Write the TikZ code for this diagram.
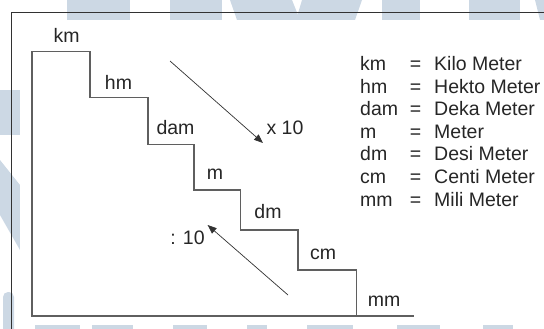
\documentclass[tikz,border=0pt]{standalone}
\usepackage{fontspec}
\setmainfont{Liberation Sans}
\usetikzlibrary{arrows.meta}
\definecolor{wmblue}{RGB}{204,216,228}
\definecolor{stairgray}{RGB}{95,95,95}
\definecolor{framegray}{RGB}{50,50,50}
\begin{document}
\begin{tikzpicture}[x=1pt,y=-1pt,
  lbl/.style={inner sep=0pt,font=\fontsize{19.5}{22}\selectfont,text=black!85},
  legend/.style={lbl,anchor=base west},
  stairline/.style={draw=stairgray,line width=1.1pt},
  frameline/.style={draw=framegray,line width=1pt},
  convarrow/.style={draw=framegray,line width=0.7pt,-{Triangle[length=9pt,width=7pt]}},
  wm/.style={fill=wmblue,draw=none}]
\useasboundingbox (0,0) rectangle (544,329);
% background lettering strips
\fill[wm] (67,0) rectangle (130,20);
\fill[wm] (170,0) rectangle (222,20);
\fill[wm] (230,0) -- (292,0) -- (300,20) -- (237,20) -- cycle;
\fill[wm] (302,0) -- (362,0) -- (355,20) -- (296,20) -- cycle;
\fill[wm] (382,0) rectangle (420,20);
\fill[wm] (469,0) rectangle (520,20);
\fill[wm] (535,0) -- (560,0) -- (565,20) -- (540,20) -- cycle;
\fill[wm] (0,90) rectangle (20,135);
\fill[wm] (0,160) -- (20,185) -- (20,250) -- (0,215) -- cycle;
\fill[wm, rounded corners=5pt] (3,292) rectangle (14,340);
\fill[wm] (35,325) rectangle (80,329);
\fill[wm] (92,325) rectangle (133,329);
\fill[wm] (173,325) rectangle (207,329);
\fill[wm] (247,325) rectangle (267,329);
\fill[wm] (307,325) rectangle (353,329);
\fill[wm] (397,325) rectangle (440,329);
\fill[wm] (483,325) rectangle (513,329);
% white sheet
\fill[white] (20,20) rectangle (544,325);
% frame
\coordinate (fTR) at (544,12.3);
\coordinate (fTL) at (11.5,12.3);
\coordinate (fBL) at (11.5,329);
\draw[frameline] (fTR) -- (fTL) -- (fBL);
% staircase
\coordinate (s0) at (32,316);
\coordinate (s1) at (32,51.7);
\coordinate (s2) at (90,51.7);
\coordinate (s3) at (90,97.7);
\coordinate (s4) at (148,97.7);
\coordinate (s5) at (148,144.3);
\coordinate (s6) at (194,144.3);
\coordinate (s7) at (194,190);
\coordinate (s8) at (240.5,190);
\coordinate (s9) at (240.5,230);
\coordinate (s10) at (298,230);
\coordinate (s11) at (298,270);
\coordinate (s12) at (356.5,270);
\coordinate (s13) at (356.5,316);
\coordinate (s14) at (413.6,316);
\draw[stairline] (s14) -- (s0) -- (s1) -- (s2) -- (s3) -- (s4) -- (s5) -- (s6)
  -- (s7) -- (s8) -- (s9) -- (s10) -- (s11) -- (s12) -- (s13);
% step labels
\node[lbl] (lkm)  at (66.5,35)  {km};
\node[lbl] (lhm)  at (118.5,82) {hm};
\node[lbl] (ldam) at (175.5,128) {dam};
\node[lbl] (lm)   at (215,174)  {m};
\node[lbl] (ldm)  at (268,212)  {dm};
\node[lbl] (lcm)  at (323,254)  {cm};
\node[lbl] (lmm)  at (384,301)  {mm};
% conversion arrows
\coordinate (aDownS) at (170,61);
\coordinate (aDownE) at (263,143);
\coordinate (aUpS) at (288,295);
\coordinate (aUpE) at (207.6,225);
\draw[convarrow] (aDownS) -- (aDownE);
\draw[convarrow] (aUpS) -- (aUpE);
\node[lbl] (times) at (285,128) {x 10};
\node[lbl] (divide) at (187.5,238) {: 10};
% legend
\foreach \ab/\name [count=\i from 0] in {km/Kilo Meter,hm/Hekto Meter,dam/Deka Meter,m/Meter,dm/Desi Meter,cm/Centi Meter,mm/Mili Meter}{
  \node[legend] (ab\i) at (360,70.5+22.6*\i) {\ab};
  \node[lbl,anchor=base] (eq\i) at (415.6,70.5+22.6*\i) {=};
  \node[legend] (nm\i) at (434,70.5+22.6*\i) {\name};
}
\end{tikzpicture}
\end{document}
